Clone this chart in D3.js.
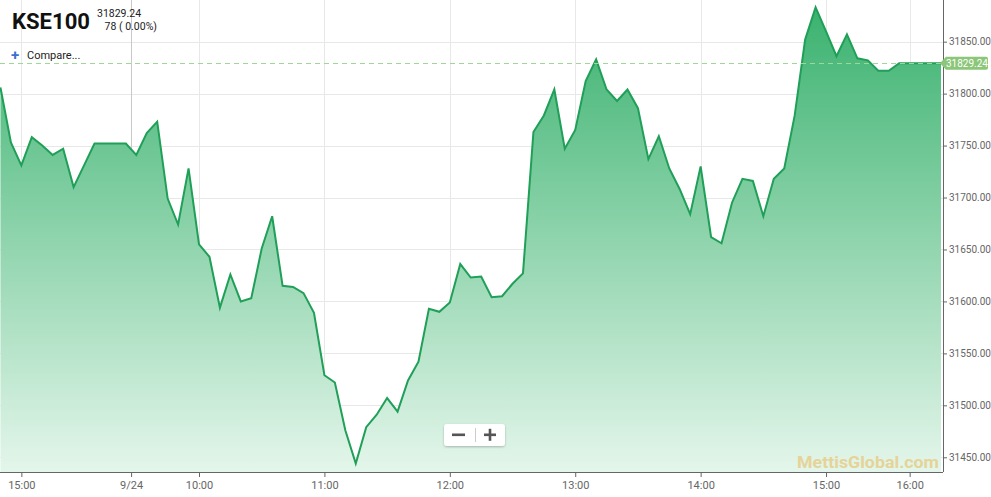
<!DOCTYPE html>
<html><head><meta charset="utf-8">
<script src="https://cdn.jsdelivr.net/npm/d3@7"></script>
<style>
html,body{margin:0;padding:0;background:#fff;}
svg{display:block;font-family:Roboto,"Noto Sans",sans-serif;}
</style></head>
<body>
<svg id="chart" width="991" height="497"></svg>
<script>
const symbol = "KSE100";
const lastValue = 31829.24;
const changeText = "78 ( 0.00%)";
const values = [31806, 31753, 31731, 31758, 31750, 31741, 31747, 31710, 31731, 31752,
  31752, 31752, 31752, 31741, 31762, 31773, 31699, 31674, 31728, 31655,
  31643, 31594, 31626, 31600, 31603, 31651, 31682, 31615, 31614, 31608,
  31589, 31529, 31522, 31476, 31444, 31479, 31491, 31507, 31494, 31524,
  31542, 31593, 31590, 31599, 31636, 31623, 31624, 31604, 31605, 31617,
  31627, 31763, 31779, 31804, 31747, 31765, 31812, 31833, 31804, 31793,
  31804, 31786, 31737, 31759, 31728, 31708, 31684, 31730, 31662, 31656,
  31695, 31718, 31716, 31682, 31718, 31728, 31779, 31852, 31883, 31860,
  31836, 31857, 31834, 31832, 31822, 31822, 31829.24, 31829.24, 31829.24, 31829.24,
  31829.24];
const xTickLabels = ["15:00", "9/24", "10:00", "11:00", "12:00", "13:00", "14:00", "15:00", "16:00"];
const xTickIndex = [2, 12.5, 19, 31, 43, 55, 67, 79, 87];
const yTicks = [31450, 31500, 31550, 31600, 31650, 31700, 31750, 31800, 31850];

const svg = d3.select("#chart");
const plotRight = 943, plotBottom = 472;
const x = d3.scaleLinear().domain([0, values.length - 1]).range([0.45, 941]);
const y = d3.scaleLinear().domain([31435.85, 31890.1]).range([plotBottom, 0]);

// gradient
const defs = svg.append("defs");
const grad = defs.append("linearGradient").attr("id", "areaGrad")
  .attr("gradientUnits", "userSpaceOnUse").attr("x1", 0).attr("y1", 0).attr("x2", 0).attr("y2", plotBottom);
grad.append("stop").attr("offset", 0).attr("stop-color", "#38b16d");
grad.append("stop").attr("offset", 1).attr("stop-color", "#e4f6eb");
const sh = defs.append("filter").attr("id", "btnShadow").attr("x", "-20%").attr("y", "-30%").attr("width", "140%").attr("height", "160%");
sh.append("feDropShadow").attr("dx", 0).attr("dy", 1).attr("stdDeviation", 1.2).attr("flood-color", "#000").attr("flood-opacity", 0.25);

// grid
svg.append("g").selectAll("line").data(yTicks).join("line")
  .attr("x1", 0).attr("x2", plotRight).attr("y1", d => Math.round(y(d)) + 0.5).attr("y2", d => Math.round(y(d)) + 0.5)
  .attr("stroke", "#e8e8e8").attr("stroke-width", 1);
svg.append("g").selectAll("line").data(xTickIndex).join("line")
  .attr("x1", d => Math.round(x(d)) + 0.5).attr("x2", d => Math.round(x(d)) + 0.5)
  .attr("y1", 0).attr("y2", plotBottom)
  .attr("stroke", (d, i) => xTickLabels[i] === "9/24" ? "#c8c8c8" : "#e8e8e8").attr("stroke-width", 1);

// area + line
const area = d3.area().x((d, i) => x(i)).y0(plotBottom).y1(d => y(d));
const line = d3.line().x((d, i) => x(i)).y(d => y(d));
svg.append("path").datum(values).attr("d", area).attr("fill", "url(#areaGrad)");
svg.append("path").datum(values).attr("d", line).attr("fill", "none")
  .attr("stroke", "#1f9f58").attr("stroke-width", 2).attr("stroke-linejoin", "miter");

// last value dashed line
svg.append("line").attr("x1", 0).attr("x2", plotRight)
  .attr("y1", Math.round(y(lastValue)) + 0.5).attr("y2", Math.round(y(lastValue)) + 0.5)
  .attr("stroke", "#9fd796").attr("stroke-width", 1).attr("stroke-dasharray", "5,4");

// watermark
svg.append("text").attr("x", 797).attr("y", 468)
  .attr("font-size", 17).attr("font-weight", 700).attr("fill", "#e6d398")
  .attr("textLength", 142).attr("lengthAdjust", "spacingAndGlyphs")
  .attr("font-family", "Roboto, sans-serif").text("MettisGlobal.com");

// axes
const xAxis = d3.axisBottom(x).tickValues(xTickIndex).tickFormat((d, i) => xTickLabels[i]).tickSize(5).tickPadding(4);
const gx = svg.append("g").attr("transform", `translate(0,${plotBottom})`).call(xAxis);
gx.select(".domain").attr("d", `M0,0.5H${plotRight}`).attr("stroke", "#666");
gx.selectAll(".tick line").attr("stroke", "#666");
gx.selectAll(".tick text").attr("font-size", 11).attr("fill", "#666").attr("font-family", "Roboto, sans-serif");

const yAxis = d3.axisRight(y).tickValues(yTicks).tickFormat(d3.format(".2f")).tickSize(4).tickPadding(2);
const gy = svg.append("g").attr("transform", `translate(${plotRight},0)`).call(yAxis);
gy.select(".domain").attr("d", `M0.5,0V${plotBottom}`).attr("stroke", "#666");
gy.selectAll(".tick line").attr("stroke", "#666");
gy.selectAll(".tick text").attr("font-size", 10).attr("fill", "#666").attr("font-family", "Roboto, sans-serif");

// last value label
const ly = y(lastValue);
const lg = svg.append("g").attr("transform", `translate(${plotRight - 3},${ly})`);
lg.append("path").attr("d", "M0,0 L6,-6.5 H46 Q48,-6.5 48,-4.5 V4.5 Q48,6.5 46,6.5 H6 Z").attr("fill", "#8bc679");
lg.append("text").attr("x", 27).attr("y", 3.8).attr("text-anchor", "middle").attr("font-size", 10)
  .attr("fill", "#fff").attr("font-family", "Roboto, sans-serif").text(lastValue.toFixed(2));

// header
svg.append("text").attr("x", 12).attr("y", 28.5).attr("font-size", 22).attr("font-weight", 700)
  .attr("fill", "#111").attr("textLength", 78).attr("lengthAdjust", "spacingAndGlyphs")
  .attr("font-family", "Roboto, sans-serif").text(symbol);
svg.append("text").attr("x", 97).attr("y", 17).attr("font-size", 10.5).attr("fill", "#222")
  .attr("font-family", "Roboto, sans-serif").text(lastValue.toFixed(2));
svg.append("text").attr("x", 157).attr("y", 30).attr("text-anchor", "end").attr("font-size", 10.5).attr("fill", "#222")
  .attr("font-family", "Roboto, sans-serif").text(changeText);
svg.append("text").attr("x", 11).attr("y", 60).attr("font-size", 15).attr("font-weight", 700)
  .attr("fill", "#3b6fd0").attr("font-family", "Roboto, sans-serif").text("+");
svg.append("text").attr("x", 27).attr("y", 59).attr("font-size", 11).attr("fill", "#222")
  .attr("font-family", "Roboto, sans-serif").text("Compare...");

// zoom buttons
const zb = svg.append("g").attr("transform", "translate(444,424)");
zb.append("rect").attr("width", 61).attr("height", 22).attr("rx", 3).attr("fill", "#fff").attr("filter", "url(#btnShadow)");
zb.append("line").attr("x1", 31.5).attr("x2", 31.5).attr("y1", 4).attr("y2", 18).attr("stroke", "#ccc");
zb.append("rect").attr("x", 8).attr("y", 9.5).attr("width", 13).attr("height", 2.6).attr("fill", "#555");
zb.append("rect").attr("x", 40).attr("y", 9.5).attr("width", 12).attr("height", 2.6).attr("fill", "#555");
zb.append("rect").attr("x", 44.7).attr("y", 4.8).attr("width", 2.6).attr("height", 12).attr("fill", "#555");
</script>
</body></html>
